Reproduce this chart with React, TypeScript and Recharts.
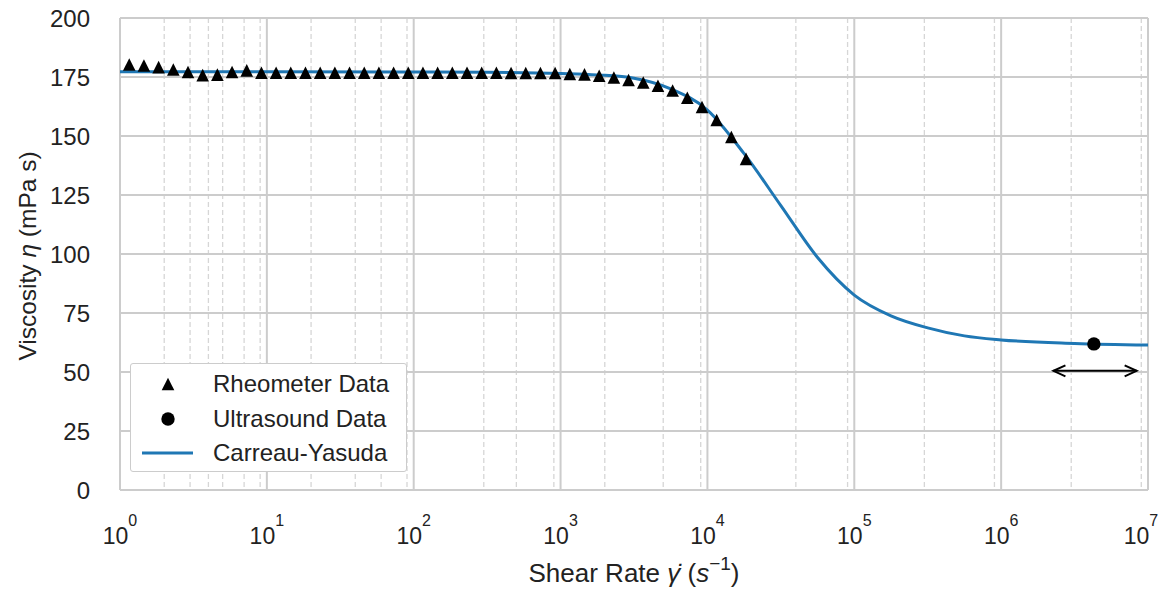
import { ComposedChart, Line, Scatter, XAxis, YAxis, CartesianGrid, Legend, ReferenceLine } from "recharts"

const FONT = '"Liberation Sans", Arial, Helvetica, sans-serif'
const BLUE = "#1f77b4"
const INK = "#222222"
const GRID = "#cccccc"

// rheometer sweep, 10 points per decade
const RHEO_RATE = [
  1.156, 1.455, 1.832, 2.307, 2.904, 3.656, 4.603, 5.794, 7.295, 9.183,
  11.56, 14.55, 18.32, 23.07, 29.04, 36.56, 46.03, 57.94, 72.95, 91.83,
  115.6, 145.5, 183.2, 230.7, 290.4, 365.6, 460.3, 579.4, 729.5, 918.3,
  1156, 1455, 1832, 2307, 2904, 3656, 4603, 5794, 7295, 9183,
  11560, 14550, 18320,
]
const RHEO_VISC = [
  180.3, 179.9, 179.2, 178.2, 177.1, 175.8, 176.0, 177.1, 177.8, 176.8,
  176.8, 176.8, 176.8, 176.8, 176.8, 176.8, 176.8, 176.8, 176.8, 176.8,
  176.8, 176.8, 176.8, 176.8, 176.8, 176.8, 176.7, 176.7, 176.7, 176.7,
  176.3, 176.1, 175.5, 174.8, 173.7, 172.7, 171.3, 169.3, 166.2, 162.3,
  156.8, 149.6, 140.3,
]

// single ultrasound measurement
const US_RATE = [4280000]
const US_VISC = [61.9]

// Carreau-Yasuda fit
const FIT_RATE = [
  1, 10, 100, 316, 1000, 1778, 3162, 5623, 10000, 17780, 31620, 56230,
  100000, 177800, 316200, 562300, 1000000, 3162000, 10000000,
]
const FIT_VISC = [
  177.2, 177.2, 177.1, 177.0, 176.5, 175.9, 174.5, 170.0, 161.0, 142.5, 120.5, 98.5,
  82.6, 73.8, 68.7, 65.3, 63.6, 62.1, 61.4,
]

// shear-rate range of the ultrasound method (double arrow)
const ARROW_RATE = [2270000, 8370000]
const ARROW_VISC = 50.5

const X_TICKS = [1, 10, 100, 1000, 10000, 100000, 1000000, 10000000]
const X_EXP = ["0", "1", "2", "3", "4", "5", "6", "7"]
const MINOR_MULT = [2, 3, 4, 5, 6, 7, 8, 9]
const MINOR_TICKS = X_TICKS.slice(0, -1).flatMap((d) => MINOR_MULT.map((m) => m * d))
const Y_TICKS = [0, 25, 50, 75, 100, 125, 150, 175, 200]

const rheoData = RHEO_RATE.map((rate, i) => ({ rate, viscosity: RHEO_VISC[i] }))
const usData = US_RATE.map((rate, i) => ({ rate, viscosity: US_VISC[i] }))
const fitData = FIT_RATE.map((rate, i) => ({ rate, viscosity: FIT_VISC[i] }))

const TRI = 6.3

const Triangle = ({ cx, cy }: any) => (
  <path d={`M${cx},${cy - TRI} L${cx + TRI},${cy + TRI} L${cx - TRI},${cy + TRI} Z`} fill="#000" />
)

const Dot = ({ cx, cy }: any) => <circle cx={cx} cy={cy} r={6.7} fill="#000" />

const ArrowShape = (p: any) => {
  const { x1, y1, x2 } = p
  const h = 12
  const w = 5.5
  return (
    <g stroke="#000" strokeWidth={2} fill="none">
      <line x1={x1} y1={y1} x2={x2} y2={y1} />
      <polyline points={`${x1 + h},${y1 - w} ${x1},${y1} ${x1 + h},${y1 + w}`} />
      <polyline points={`${x2 - h},${y1 - w} ${x2},${y1} ${x2 - h},${y1 + w}`} />
    </g>
  )
}

const XTick = ({ x, y, payload }: any) => {
  const i = X_TICKS.indexOf(payload.value)
  const exp = i >= 0 ? X_EXP[i] : String(Math.round(Math.log10(payload.value)))
  return (
    <text x={x} y={y + 54} textAnchor="middle" fontFamily={FONT} fill={INK}>
      <tspan fontSize={23}>10</tspan>
      <tspan fontSize={16} dy={-18}>{exp}</tspan>
    </text>
  )
}

const XLabel = () => (
  <text x={634} y={582} textAnchor="middle" fontFamily={FONT} fontSize={26} fill={INK}>
    Shear Rate{" "}
    <tspan fontStyle="italic">{"\u03b3\u0307"}</tspan>
    {" ("}
    <tspan fontStyle="italic">s</tspan>
    <tspan fontSize={19} dy={-12}>{"\u22121"}</tspan>
    <tspan dy={12}>)</tspan>
  </text>
)

const YLabel = () => (
  <text transform="translate(36, 256) rotate(-90)" textAnchor="middle" fontFamily={FONT} fontSize={24.5} fill={INK}>
    Viscosity <tspan fontStyle="italic">{"\u03b7"}</tspan> (mPa s)
  </text>
)

const LegendBox = () => {
  const rows = [
    { label: "Rheometer Data", kind: "tri" },
    { label: "Ultrasound Data", kind: "dot" },
    { label: "Carreau-Yasuda", kind: "line" },
  ]
  return (
    <div
      style={{
        width: 277,
        height: 109,
        boxSizing: "border-box",
        border: `1.5px solid ${GRID}`,
        borderRadius: 3,
        background: "#fff",
        paddingTop: 3,
        fontFamily: FONT,
        fontSize: 24,
        color: INK,
      }}
    >
      {rows.map((r) => (
        <div key={r.label} style={{ display: "flex", alignItems: "center", height: 34.5 }}>
          <svg width={82} height={34} style={{ flexShrink: 0 }}>
            {r.kind === "tri" && <Triangle cx={37} cy={17} />}
            {r.kind === "dot" && <Dot cx={37} cy={17} />}
            {r.kind === "line" && <line x1={11} y1={17} x2={62} y2={17} stroke={BLUE} strokeWidth={3} />}
          </svg>
          <span style={{ whiteSpace: "nowrap", lineHeight: 1 }}>{r.label}</span>
        </div>
      ))}
    </div>
  )
}

export default function App() {
  return (
    <div style={{ position: "absolute", left: 0, top: 0, width: 1173, height: 592, background: "#fff" }}>
      <ComposedChart width={1173} height={592} margin={{ top: 18, right: 25, bottom: 0, left: 0 }}>
        <XAxis
          xAxisId="minor"
          dataKey="rate"
          type="number"
          scale="log"
          domain={[1, 10000000]}
          ticks={MINOR_TICKS}
          allowDataOverflow
          hide
        />
        <CartesianGrid xAxisId="minor" horizontal={false} stroke="#d6d6d6" strokeWidth={1.3} strokeDasharray="5 3" />
        <CartesianGrid stroke={GRID} strokeWidth={2} />
        <XAxis
          dataKey="rate"
          type="number"
          scale="log"
          domain={[1, 10000000]}
          ticks={X_TICKS}
          allowDataOverflow
          height={102}
          axisLine={false}
          tickLine={false}
          tickSize={0}
          tickMargin={0}
          tick={<XTick />}
          label={{ content: () => <XLabel /> }}
        />
        <YAxis
          type="number"
          domain={[0, 200]}
          ticks={Y_TICKS}
          width={120}
          axisLine={false}
          tickLine={false}
          tickSize={0}
          tickMargin={30}
          tick={{ fontSize: 24, fill: INK, fontFamily: FONT }}
          label={{ content: () => <YLabel /> }}
        />
        <Line
          data={fitData}
          dataKey="viscosity"
          type="monotone"
          stroke={BLUE}
          strokeWidth={3}
          dot={false}
          activeDot={false}
          isAnimationActive={false}
        />
        <Scatter data={rheoData} dataKey="viscosity" shape={<Triangle />} isAnimationActive={false} />
        <Scatter data={usData} dataKey="viscosity" shape={<Dot />} isAnimationActive={false} />
        <ReferenceLine
          segment={[
            { x: ARROW_RATE[0], y: ARROW_VISC },
            { x: ARROW_RATE[1], y: ARROW_VISC },
          ]}
          shape={ArrowShape}
        />
        <Legend
          layout="vertical"
          align="center"
          verticalAlign="middle"
          content={() => <LegendBox />}
          wrapperStyle={{ left: 130, top: 363, width: 277, height: 109 }}
        />
      </ComposedChart>
    </div>
  )
}
